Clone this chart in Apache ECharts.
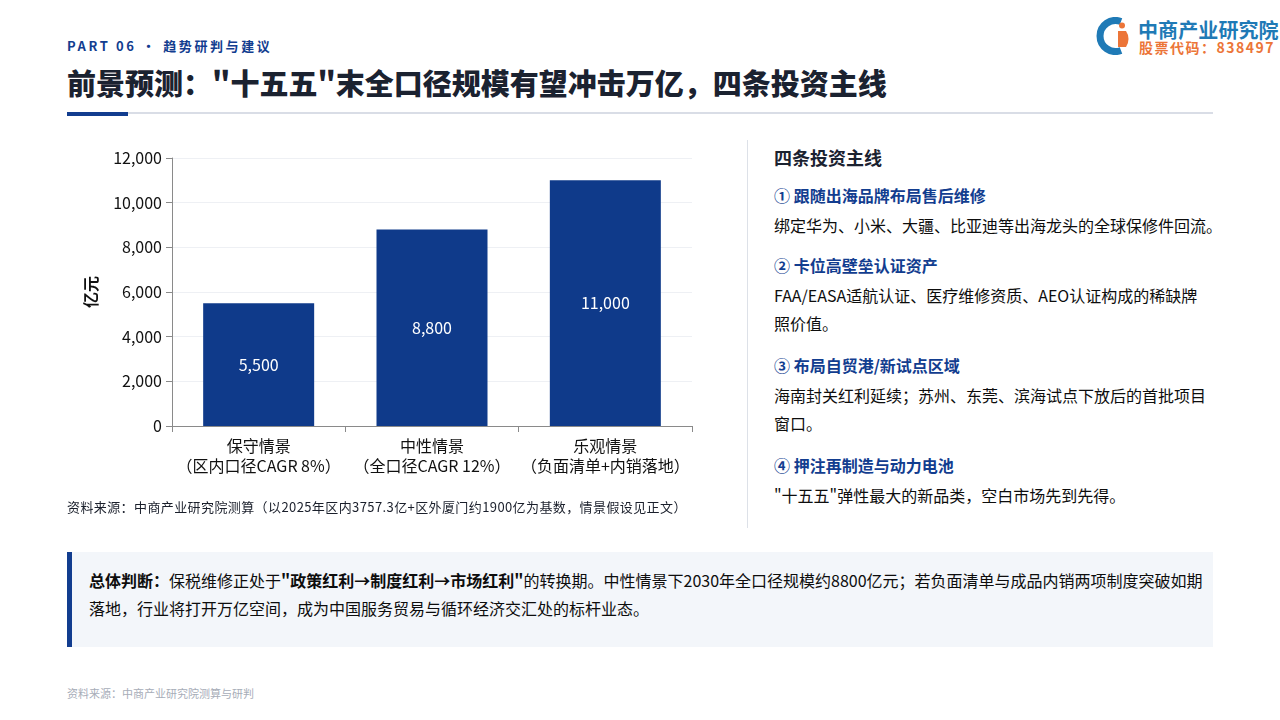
<!DOCTYPE html>
<html lang="zh">
<head>
<meta charset="UTF-8">
<title>前景预测</title>
<style>
    *{margin:0;padding:0;box-sizing:border-box;}
    body{width:1280px;height:720px;background:#fff;position:relative;overflow:hidden;
        font-family:"Noto Sans CJK SC","Noto Sans",sans-serif;color:#1a1f2b;}
    .abs{position:absolute;white-space:nowrap;}
    .part{left:67px;top:36px;font-size:13px;font-weight:700;color:#123d8f;letter-spacing:2.6px;}
    .title{left:67px;top:62px;font-size:29px;font-weight:900;color:#1b2230;line-height:40px;}
    .rule{left:67px;top:112px;width:1146px;height:2px;background:#d9dde6;}
    .rule-blue{left:67px;top:112px;width:61px;height:4px;background:#123d8f;}
    .logo-t1{left:1138px;top:16px;font-size:20px;font-weight:700;color:#1f7ab6;line-height:28px;letter-spacing:0.1px;}
    .logo-t2{left:1139px;top:38px;font-size:14px;font-weight:700;color:#ec7538;line-height:18px;letter-spacing:1.5px;}
    #chart{position:absolute;left:60px;top:130px;width:660px;height:370px;}
    .src{left:67px;top:497px;font-size:13px;color:#1a1f2b;letter-spacing:0.4px;line-height:20px;}
    .vline{left:747px;top:140px;width:1px;height:388px;background:#dde1e8;}
    .rt{left:774px;top:144px;font-size:18px;font-weight:700;color:#1b2230;line-height:26px;}
    .h{font-size:16px;font-weight:700;color:#123d8f;line-height:24px;}
    .b{font-size:16px;color:#0d0d0d;line-height:28px;}
    .box{left:67px;top:552px;width:1146px;height:95px;background:#f3f6fa;border-left:5px solid #123d8f;}
    .box p{position:absolute;left:17px;font-size:16px;color:#0d0d0d;line-height:28px;white-space:nowrap;}
    .foot{left:67px;top:685px;font-size:11px;color:#a7adb8;line-height:16px;}
</style>
<script src="https://cdn.jsdelivr.net/npm/echarts@6/dist/echarts.min.js"></script>
</head>
<body>
<div class="abs part">PART 06 · 趋势研判与建议</div>
<div class="abs title">前景预测："十五五"末全口径规模有望冲击万亿，四条投资主线</div>
<div class="abs rule"></div>
<div class="abs rule-blue"></div>

<svg class="abs" style="left:1096px;top:17px" width="38" height="38" viewBox="0 0 38 38">
    <path d="M25 4.5 A15.5 15.5 0 1 0 25 33.5" fill="none" stroke="#1f7ab6" stroke-width="7"/>
    <path d="M22 14 L30 14 A14 14 0 0 1 30 30 L22 30 Z" fill="#ec7538"/>
    <circle cx="26" cy="8.5" r="3" fill="#ec7538"/>
</svg>
<div class="abs logo-t1">中商产业研究院</div>
<div class="abs logo-t2">股票代码：838497</div>

<div id="chart"></div>
<div class="abs src">资料来源：中商产业研究院测算（以2025年区内3757.3亿+区外厦门约1900亿为基数，情景假设见正文）</div>

<div class="abs vline"></div>
<div class="abs rt">四条投资主线</div>
<div class="abs h" style="left:774px;top:183px">① 跟随出海品牌布局售后维修</div>
<div class="abs b" style="left:774px;top:211px">绑定华为、小米、大疆、比亚迪等出海龙头的全球保修件回流。</div>
<div class="abs h" style="left:774px;top:253px">② 卡位高壁垒认证资产</div>
<div class="abs b" style="left:774px;top:281px">FAA/EASA适航认证、医疗维修资质、AEO认证构成的稀缺牌<br>照价值。</div>
<div class="abs h" style="left:774px;top:353px">③ 布局自贸港/新试点区域</div>
<div class="abs b" style="left:774px;top:381px">海南封关红利延续；苏州、东莞、滨海试点下放后的首批项目<br>窗口。</div>
<div class="abs h" style="left:774px;top:453px">④ 押注再制造与动力电池</div>
<div class="abs b" style="left:774px;top:481px">"十五五"弹性最大的新品类，空白市场先到先得。</div>

<div class="abs box">
    <p style="top:14px"><b>总体判断：</b>保税维修正处于<b>"政策红利→制度红利→市场红利"</b>的转换期。中性情景下2030年全口径规模约8800亿元；若负面清单与成品内销两项制度突破如期</p>
    <p style="top:42px">落地，行业将打开万亿空间，成为中国服务贸易与循环经济交汇处的标杆业态。</p>
</div>
<div class="abs foot">资料来源：中商产业研究院测算与研判</div>

<script>
    // 三种情景 2030 年规模（亿元）
    let scenarios = ['保守情景', '中性情景', '乐观情景'];
    let notes = ['（区内口径CAGR 8%）', '（全口径CAGR 12%）', '（负面清单+内销落地）'];
    let values = [5500, 8800, 11000];
    let yTicks = {min: 0, max: 12000, interval: 2000};

    let font = '"Noto Sans CJK SC","Noto Sans",sans-serif';
    let fmt = v => Number(v).toLocaleString('en-US');
    let chart = echarts.init(document.getElementById('chart'));
    let option = {
        animation: false,
        textStyle: {fontFamily: font},
        grid: {left: 112, top: 28, width: 520, height: 268},
        xAxis: {
            type: 'category',
            data: scenarios.map((s, i) => s + '\n' + notes[i]),
            axisLine: {lineStyle: {color: '#8a8a8a'}},
            axisTick: {show: true, length: 6, lineStyle: {color: '#8a8a8a'}},
            axisLabel: {color: '#111', fontSize: 16, lineHeight: 20, margin: 10, interval: 0}
        },
        yAxis: {
            type: 'value',
            min: yTicks.min,
            max: yTicks.max,
            interval: yTicks.interval,
            name: '亿元',
            nameLocation: 'middle',
            nameRotate: 90,
            nameGap: 73,
            nameTextStyle: {color: '#111', fontSize: 16, fontWeight: 'bold'},
            axisLine: {show: true, lineStyle: {color: '#8a8a8a'}},
            axisTick: {show: true, length: 6, lineStyle: {color: '#8a8a8a'}},
            axisLabel: {color: '#111', fontSize: 16, margin: 10, formatter: fmt},
            splitLine: {lineStyle: {color: '#eef0f4'}}
        },
        series: [{
            type: 'bar',
            data: values,
            barWidth: 111,
            itemStyle: {color: '#0f3a8a'},
            label: {
                show: true,
                position: 'inside',
                color: '#fff',
                fontSize: 16,
                formatter: p => fmt(p.value)
            }
        }]
    };
    chart.setOption(option);
</script>
</body>
</html>
